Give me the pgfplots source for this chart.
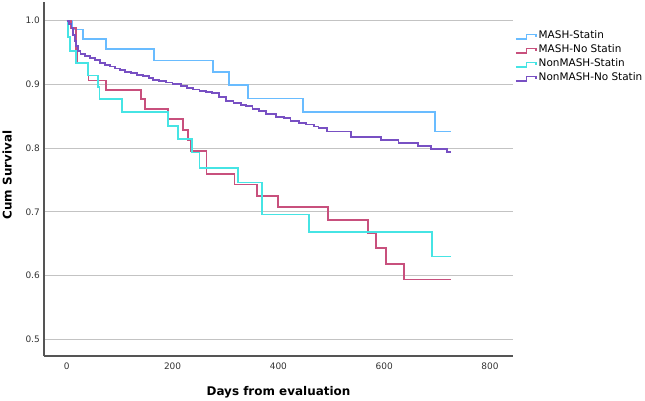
\documentclass[border=0pt]{standalone}
\usepackage{pgfplots}
\pgfplotsset{compat=1.18}
\usepackage{fontspec}
\setmainfont{DejaVu Sans}
\definecolor{cMS}{RGB}{105,188,255}
\definecolor{cMN}{RGB}{200,80,125}
\definecolor{cNS}{RGB}{70,228,228}
\definecolor{cNN}{RGB}{120,80,195}
\definecolor{axgray}{RGB}{85,85,85}
\definecolor{gridgray}{RGB}{195,195,195}
\begin{document}
\begin{tikzpicture}
\useasboundingbox (-44bp,-45bp) rectangle (601bp,356bp);
\begin{axis}[
  scale only axis, width=469bp, height=354bp,
  xmin=-43, xmax=843.5, ymin=0.4738, ymax=1.0293,
  axis lines=left,
  axis line style={-, draw=axgray, line width=1.1bp},
  xtick={0,200,400,600,800}, xticklabels={0,200,400,600,800},
  ytick={0.5,0.6,0.7,0.8,0.9,1.0}, yticklabels={0.5,0.6,0.7,0.8,0.9,1.0},
  major tick length=0pt,
  ymajorgrids, grid style={draw=gridgray, line width=0.9bp},
  tick label style={font=\fontsize{9}{10}\selectfont, text=black!80},
  xticklabel style={anchor=north, inner sep=0pt, yshift=-7bp},
  yticklabel style={anchor=east, inner sep=0pt, xshift=-4bp},
  xlabel={Days from evaluation}, ylabel={Cum Survival},
  label style={font=\bfseries\fontsize{12}{14}\selectfont, inner sep=0pt},
  xlabel style={at={(axis description cs:0.5,0)}, anchor=base, yshift=-39.7bp},
  ylabel style={at={(axis description cs:-0.0785,0.511)}, anchor=center},
  legend cell align=left,
  legend style={at={(axis description cs:1,1)}, anchor=north west, xshift=2bp, yshift=-28.8bp,
    draw=none, fill=none, inner sep=0pt, row sep=3.5bp,
    font=\fontsize{10.5}{12}\selectfont,
    nodes={inner sep=0pt, text height=8bp, text depth=2.5bp},
    cells={anchor=west},
    /tikz/every odd column/.append style={column sep=2bp}},
  legend image code/.code={\draw[#1, line width=1.5bp] (0bp,-2.6bp) -- (10.7bp,-2.6bp) -- (10.7bp,1.5bp) -- (20bp,1.5bp) -- (20bp,-0.8bp);},
  every axis plot/.append style={line width=1.8bp, const plot, line join=miter},
]
\addplot[cMS] coordinates {
(0,1.0) (11,0.986) (30,0.971) (74,0.955) (165,0.9375) (277,0.919) (307,0.899)
(342,0.878) (447,0.857) (696,0.826) (726,0.826)};
\addlegendentry{MASH-Statin}
\addplot[cMN] coordinates {
(0,1.0) (8,0.988) (17,0.955) (19,0.933) (41,0.906) (74,0.891) (140,0.877) (148,0.862)
(191,0.846) (219,0.829) (229,0.8125) (235,0.795) (264,0.760) (317,0.743) (359,0.725)
(400,0.708) (494,0.6875) (570,0.666) (585,0.643) (604,0.618) (638,0.594) (726,0.594)};
\addlegendentry{MASH-No Statin}
\addplot[cNS] coordinates {
(0,1.0) (3,0.975) (6,0.952) (18,0.934) (40,0.914) (59,0.896) (62,0.877) (105,0.857)
(191,0.835) (210,0.814) (237,0.793) (251,0.769) (323,0.746) (369,0.696) (458,0.669)
(691,0.630) (726,0.630)};
\addlegendentry{NonMASH-Statin}
\addplot[cNN] coordinates {
(0,1.0) (5,0.995) (9,0.988) (12,0.978) (15,0.968) (18,0.96) (21,0.953) (26,0.948)
(35,0.945) (44,0.942) (53,0.938) (63,0.934) (72,0.931) (81,0.928) (91,0.925) (100,0.922)
(110,0.920) (122,0.918) (133,0.915) (144,0.913) (155,0.910) (163,0.907) (175,0.905)
(188,0.903) (200,0.901) (216,0.897) (228,0.894) (238,0.892) (251,0.890) (263,0.888)
(275,0.886) (288,0.880) (301,0.874) (315,0.871) (329,0.868) (339,0.866) (351,0.862)
(364,0.858) (376,0.853) (395,0.849) (410,0.847) (423,0.842) (439,0.839) (452,0.837)
(467,0.834) (476,0.831) (492,0.826) (538,0.818) (594,0.8125) (627,0.808) (664,0.803)
(688,0.799) (718,0.794) (727,0.794)};
\addlegendentry{NonMASH-No Statin}
\end{axis}
\end{tikzpicture}
\end{document}
